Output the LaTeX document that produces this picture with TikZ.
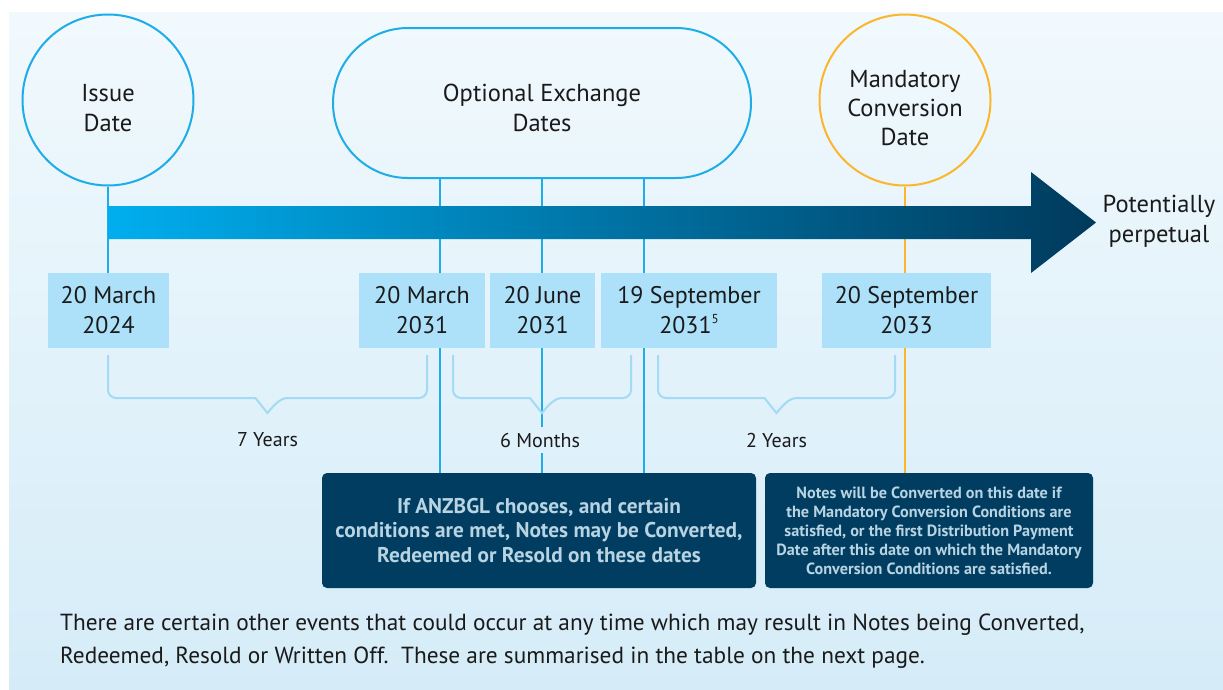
\documentclass[tikz,border=0pt]{standalone}
\usepackage{fontspec}
\setmainfont{PT Sans}
\usetikzlibrary{calc}
\definecolor{cyanline}{HTML}{1EADE6}
\definecolor{orangeline}{HTML}{FBB62C}
\definecolor{datefill}{HTML}{ADE1F9}
\definecolor{darkbox}{HTML}{003D60}
\definecolor{darktext}{HTML}{B8D3E2}
\definecolor{bracecol}{HTML}{A3DAF4}
\definecolor{bgtop}{HTML}{F1F9FD}
\definecolor{bgbot}{HTML}{D5ECF8}
\definecolor{arrowl}{HTML}{00AEEF}
\definecolor{arrowr}{HTML}{003A5C}
\definecolor{txt}{HTML}{1A1A1A}
\newcommand{\timebrace}[2]{%
  \draw[bracestyle,rounded corners=8] (#1,355) -- (#1,398) -- ($(#1,398)!0.5!(#2,398)+(-20,0)$)
    [sharp corners] .. controls +(8,0) and +(-5,-6) .. ++(20,15)
    .. controls +(5,-6) and +(-8,0) .. ++(20,-15)
    [rounded corners=8] -- (#2,398) -- (#2,355);}
\begin{document}
\begin{tikzpicture}[x=1pt,y=-1pt,
  circstyle/.style={circle,line width=2pt,minimum size=171,inner sep=0},
  lbl/.style={align=center,text=txt,inner sep=0,font=\fontsize{24.5}{30}\selectfont},
  datebox/.style={fill=datefill,minimum height=75,inner sep=0,align=center,text=txt,font=\fontsize{24}{30}\selectfont},
  darkstyle/.style={fill=darkbox,rounded corners=5,minimum height=115,inner sep=0,align=center,text=darktext},
  cl/.style={draw=cyanline,line width=2pt},
  ol/.style={draw=orangeline,line width=2pt},
  bracestyle/.style={draw=bracecol,line width=2pt},
  yrs/.style={text=txt,inner xsep=2,inner ysep=6,font=\fontsize{20}{24}\selectfont}]
\useasboundingbox (0,0) rectangle (1223,689);
\fill[white] (0,0) rectangle (1223,689);
\shade[top color=bgtop,bottom color=bgbot] (9,12) rectangle (1223,689);

% header shapes
\node[circstyle,draw=cyanline] (issue) at (108,100) {};
\node[lbl] (issuet) at (108,108) {Issue\\Date};
\node[draw=cyanline,line width=2pt,rounded corners=75,minimum width=418,minimum height=150,inner sep=0] (oed) at (542,103) {};
\node[lbl] (oedt) at (542,108) {Optional Exchange\\Dates};
\node[circstyle,draw=orangeline] (mand) at (905,100) {};
\node[lbl,font=\fontsize{24.5}{29}\selectfont] (mandt) at (905,108) {Mandatory\\Conversion\\Date};

% date boxes
\node[datebox,minimum width=121] (d1) at (108.5,310.5) {20 March\\2024};
\node[datebox,minimum width=126] (d2) at (422,310.5) {20 March\\2031};
\node[datebox,minimum width=105] (d3) at (542.5,310.5) {20 June\\2031};
\node[datebox,minimum width=176] (d4) at (689,310.5) {19 September\\2031\raisebox{0.45em}{\fontsize{13}{13}\selectfont 5}};
\node[datebox,minimum width=169] (d5) at (906.5,310.5) {20 September\\2033};

% description boxes
\node[darkstyle,minimum width=434,font=\bfseries\fontsize{21.3}{24.5}\selectfont] (cb1) at (539,530.5)
  {If ANZBGL chooses, and certain\\conditions are met, Notes may be Converted,\\Redeemed or Resold on these dates};
\node[darkstyle,minimum width=328,font=\bfseries\fontsize{16.2}{19}\selectfont] (cb2) at (929,530.5)
  {Notes will be Converted on this date if\\the Mandatory Conversion Conditions are\\satisfied, or the first Distribution Payment\\Date after this date on which the Mandatory\\Conversion Conditions are satisfied.};

% duration labels
\node[yrs] (lab7) at (267.5,440) {7 Years};
\node[yrs] (lab6) at (540,440) {6 Months};
\node[yrs] (lab2) at (776.5,440) {2 Years};

% connector lines
\coordinate (x1) at ($(oed.south)+(-102,0)$);
\coordinate (x2) at (oed.south);
\coordinate (x3) at ($(oed.south)+(102,0)$);
\draw[cl] (issue.south) -- (d1.north -| issue.south);
\draw[cl] (x1) -- (d2.north -| x1);
\draw[cl] (d2.south -| x1) -- (cb1.north -| x1);
\draw[cl] (x2) -- (d3.north -| x2);
\draw[cl] (d3.south -| x2) -- (lab6.north -| x2);
\draw[cl] (lab6.south -| x2) -- (cb1.north -| x2);
\draw[cl] (x3) -- (d4.north -| x3);
\draw[cl] (d4.south -| x3) -- (cb1.north -| x3);
\draw[ol] (mand.south) -- (d5.north -| mand.south);
\draw[ol] (d5.south -| mand.south) -- (cb2.north -| mand.south);

% timeline arrow
\shade[left color=arrowl,right color=arrowr] (108,206) -- (1031,206) -- (1031,172) -- (1096,222.5)
  -- (1031,273) -- (1031,239) -- (108,239) -- cycle;
\node[lbl] (pp) at (1159,221) {Potentially\\perpetual};

% braces
\timebrace{108}{427}
\timebrace{453}{631}
\timebrace{658}{895}

% footnote text
\node[anchor=west,align=left,inner sep=0,text=txt,font=\fontsize{23.3}{33}\selectfont] (note) at (60,641)
  {There are certain other events that could occur at any time which may result in Notes being Converted,\\
   Redeemed, Resold or Written Off.\ \ These are summarised in the table on the next page.};
\end{tikzpicture}
\end{document}
